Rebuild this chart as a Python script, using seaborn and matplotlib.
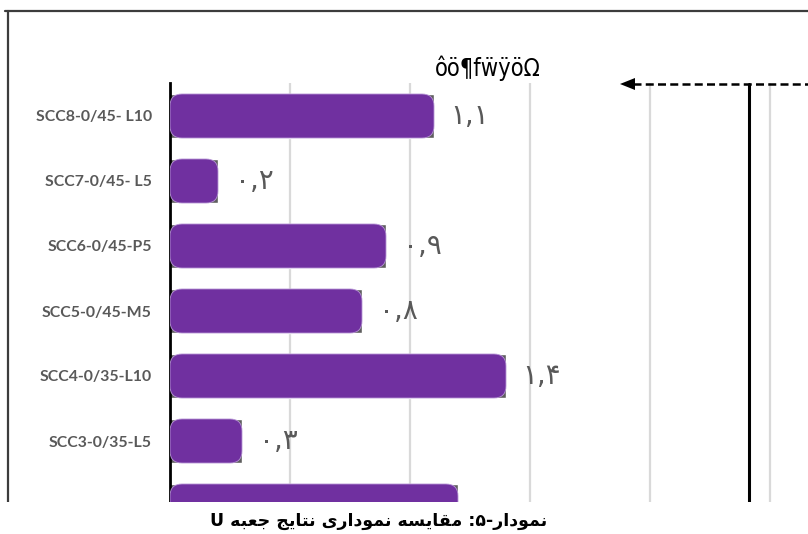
import matplotlib
matplotlib.use("Agg")
import matplotlib.pyplot as plt
import seaborn as sns
import pandas as pd
from matplotlib.patches import FancyBboxPatch, Rectangle, Polygon
from matplotlib.lines import Line2D

# ---- data -------------------------------------------------------------
categories = ["SCC8-0/45- L10", "SCC7-0/45- L5", "SCC6-0/45-P5", "SCC5-0/45-M5",
              "SCC4-0/35-L10", "SCC3-0/35-L5", "SCC2-0/35-P5"]
values = [1.1, 0.2, 0.9, 0.8, 1.4, 0.3, 1.2]
gridline_ticks = [0.5, 1.0, 1.5, 2.0, 2.5]
header_text = "ôö¶fẅÿöΩ"
caption_text = "نمودار-۵: مقایسه نموداری نتایج جعبه U"

# ---- minimal Arabic-script shaping (matplotlib has no text shaping) ----
FORMS = {  # isolated, final, initial, medial
    'ا': (0xFE8D, 0xFE8E, None, None),
    'ب': (0xFE8F, 0xFE90, 0xFE91, 0xFE92),
    'ت': (0xFE95, 0xFE96, 0xFE97, 0xFE98),
    'ج': (0xFE9D, 0xFE9E, 0xFE9F, 0xFEA0),
    'د': (0xFEA9, 0xFEAA, None, None),
    'ر': (0xFEAD, 0xFEAE, None, None),
    'س': (0xFEB1, 0xFEB2, 0xFEB3, 0xFEB4),
    'ع': (0xFEC9, 0xFECA, 0xFECB, 0xFECC),
    'ق': (0xFED5, 0xFED6, 0xFED7, 0xFED8),
    'م': (0xFEE1, 0xFEE2, 0xFEE3, 0xFEE4),
    'ن': (0xFEE5, 0xFEE6, 0xFEE7, 0xFEE8),
    'ه': (0xFEE9, 0xFEEA, 0xFEEB, 0xFEEC),
    'و': (0xFEED, 0xFEEE, None, None),
    'ی': (0xFEEF, 0xFEF0, 0xFEF3, 0xFEF4),
}


def shape_rtl(text):
    out = []
    for i, ch in enumerate(text):
        if ch not in FORMS:
            out.append(ch)
            continue
        prev = text[i - 1] if i > 0 else None
        nxt = text[i + 1] if i + 1 < len(text) else None
        joins_prev = prev in FORMS and FORMS[prev][2] is not None
        joins_next = nxt in FORMS and FORMS[ch][2] is not None
        iso, fin, ini, med = FORMS[ch]
        if joins_prev and joins_next:
            code = med
        elif joins_prev:
            code = fin
        elif joins_next:
            code = ini
        else:
            code = iso
        out.append(chr(code))
    return "".join(out)[::-1]


FA_DIGITS = str.maketrans("0123456789.", "۰۱۲۳۴۵۶۷۸۹,")


def fa_number(v):
    return f"{v:.1f}".translate(FA_DIGITS)


# ---- figure -----------------------------------------------------------
W, H = 808, 534
sns.set_theme(style="white")
fig = plt.figure(figsize=(W / 100, H / 100), dpi=100)


def fx(x):
    return x / W


def fy(y):
    return 1 - y / H


AX_L, AX_T, AX_R, AX_B = 170, 83, 808, 502
ax = fig.add_axes([fx(AX_L), fy(AX_B), (AX_R - AX_L) / W, (AX_B - AX_T) / H])

df = pd.DataFrame({"case": categories, "u": values})
sns.barplot(data=df, x="u", y="case", orient="h", color="#5e5e5e",
            saturation=1, width=0.677, ax=ax, zorder=2)

PX_PER_X = 240.0
PX_PER_Y = 65.0
ax.set_xlim(0, (AX_R - AX_L) / PX_PER_X)
top = -33 / PX_PER_Y
ax.set_ylim(top + (AX_B - AX_T) / PX_PER_Y, top)

# rounded purple bars on top of the grey bar rectangles
for p in list(ax.patches):
    fb = FancyBboxPatch((p.get_x(), p.get_y()), p.get_width(), p.get_height(),
                        boxstyle="round,pad=0,rounding_size=0.05",
                        mutation_aspect=PX_PER_X / PX_PER_Y,
                        fc="#7030A0", ec="#b795d6", lw=0.6, zorder=3)
    ax.add_patch(fb)

ax.bar_label(ax.containers[0], labels=[fa_number(v) for v in values],
             padding=12, color="#595959", fontsize=20, family="DejaVu Sans")

ax.set_xticks(gridline_ticks)
ax.xaxis.grid(True, color="#d9d9d9", lw=1.6)
ax.set_axisbelow(True)
ax.tick_params(axis="x", length=0, labelbottom=False)
ax.tick_params(axis="y", length=0, pad=13, labelsize=11.4, labelcolor="#595959")
for lab in ax.get_yticklabels():
    lab.set_fontweight("bold")
    lab.set_family("Lato")
ax.set_xlabel("")
ax.set_ylabel("")
for side in ("top", "right", "bottom"):
    ax.spines[side].set_visible(False)
ax.spines["left"].set_color("black")
ax.spines["left"].set_linewidth(2)

# outer frame
fig.add_artist(Line2D([fx(8), fx(8)], [fy(11), fy(AX_B)], color="#3c3c3c", lw=1.6))
fig.add_artist(Line2D([fx(5), 1.0], [fy(11), fy(11)], color="#3c3c3c", lw=1.6))

# vertical connector and dashed arrow
fig.add_artist(Line2D([fx(749), fx(749)], [fy(84), fy(AX_B)], color="black", lw=2.2))
fig.add_artist(Line2D([fx(633), 1.0], [fy(84), fy(84)], color="black", lw=1.8,
                      ls=(0, (3.2, 1.7))))
fig.add_artist(Polygon([(fx(620), fy(84)), (fx(635), fy(78)), (fx(635), fy(90))],
                       closed=True, fc="black", ec="none"))

# header text
fig.text(fx(488), fy(68), header_text, ha="center", va="center", fontsize=17,
         family="Liberation Sans Narrow", fontstretch="condensed", color="black")

# white strip below the chart and the caption on it
fig.add_artist(Rectangle((0, 0), 1, fy(AX_B), transform=fig.transFigure,
                         fc="white", ec="none", zorder=10))
fig.text(fx(379), fy(521), shape_rtl(caption_text), ha="center", va="center",
         fontsize=12.5, fontweight="bold", family="DejaVu Sans", color="black",
         zorder=11)

fig.savefig("out.png", dpi=100)
